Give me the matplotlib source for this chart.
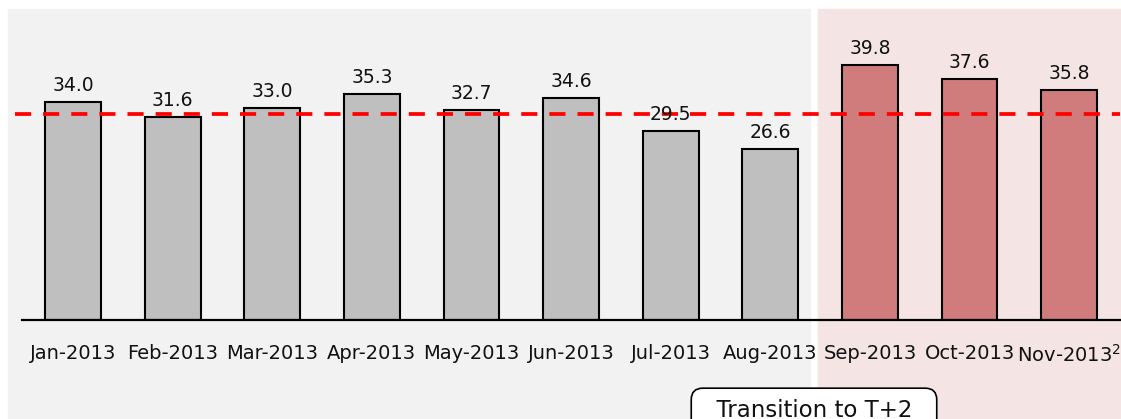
import numpy as np
import matplotlib.pyplot as plt

months = ['Jan-2013', 'Feb-2013', 'Mar-2013', 'Apr-2013', 'May-2013', 'Jun-2013',
          'Jul-2013', 'Aug-2013', 'Sep-2013', 'Oct-2013', 'Nov-2013$^{2}$']
values = [34.0, 31.6, 33.0, 35.3, 32.7, 34.6, 29.5, 26.6, 39.8, 37.6, 35.8]
n_before = 8  # months before the T+2 transition

plt.rcParams['font.family'] = ['DejaVu Sans']
plt.rcParams['mathtext.fontset'] = 'dejavusans'

fig = plt.figure(figsize=(11.21, 4.19), dpi=100)
ax = fig.add_axes([22 / 1121, 99 / 419, 1098 / 1121, 311 / 419])

x = np.arange(len(values))
colors = ['#bfbfbf'] * n_before + ['#d07c7c'] * (len(values) - n_before)

# shaded regions (extend below the axis, down to the bottom of the figure)
ax.axvspan(-0.655, n_before - 0.6, ymin=-0.32, ymax=1, color='#f2f2f2', zorder=0, clip_on=False)
ax.axvspan(n_before - 0.52, len(values) - 0.48, ymin=-0.32, ymax=1, color='#f5e4e4', zorder=0, clip_on=False)

bars = ax.bar(x, values, width=0.56, color=colors, edgecolor='black', linewidth=1.5, zorder=2)
for xi, v in zip(x, values):
    ax.annotate(f'{v:.1f}', (xi, v), xytext=(0, 5), textcoords='offset points',
                ha='center', va='bottom', fontsize=13.5, color='#111111', zorder=4)

avg = np.mean(values[:n_before])
ax.axhline(avg, xmin=-0.006, xmax=1.0, color='#ff0000', linewidth=2.7,
           linestyle=(0, (4.3, 3.2)), zorder=3, clip_on=False)

ax.set_xlim(-0.512, 10.51)
ax.set_ylim(0, 48.5)
ax.set_xticks(x)
ax.set_xticklabels(months, fontsize=14, color='#111111')
ax.tick_params(axis='x', length=0, pad=17)
ax.set_yticks([])
for s in ['top', 'right', 'left']:
    ax.spines[s].set_visible(False)
ax.spines['bottom'].set_linewidth(1.6)
ax.spines['bottom'].set_zorder(5)
ax.patch.set_visible(False)

fig.text(814 / 1121, 9 / 419, '  Transition to T+2  ', ha='center', va='center',
         fontsize=16.5, color='#111111',
         bbox=dict(boxstyle='round,pad=0.45,rounding_size=0.5', facecolor='white',
                   edgecolor='black', linewidth=1.2))

fig.savefig('out.png', dpi=100)
